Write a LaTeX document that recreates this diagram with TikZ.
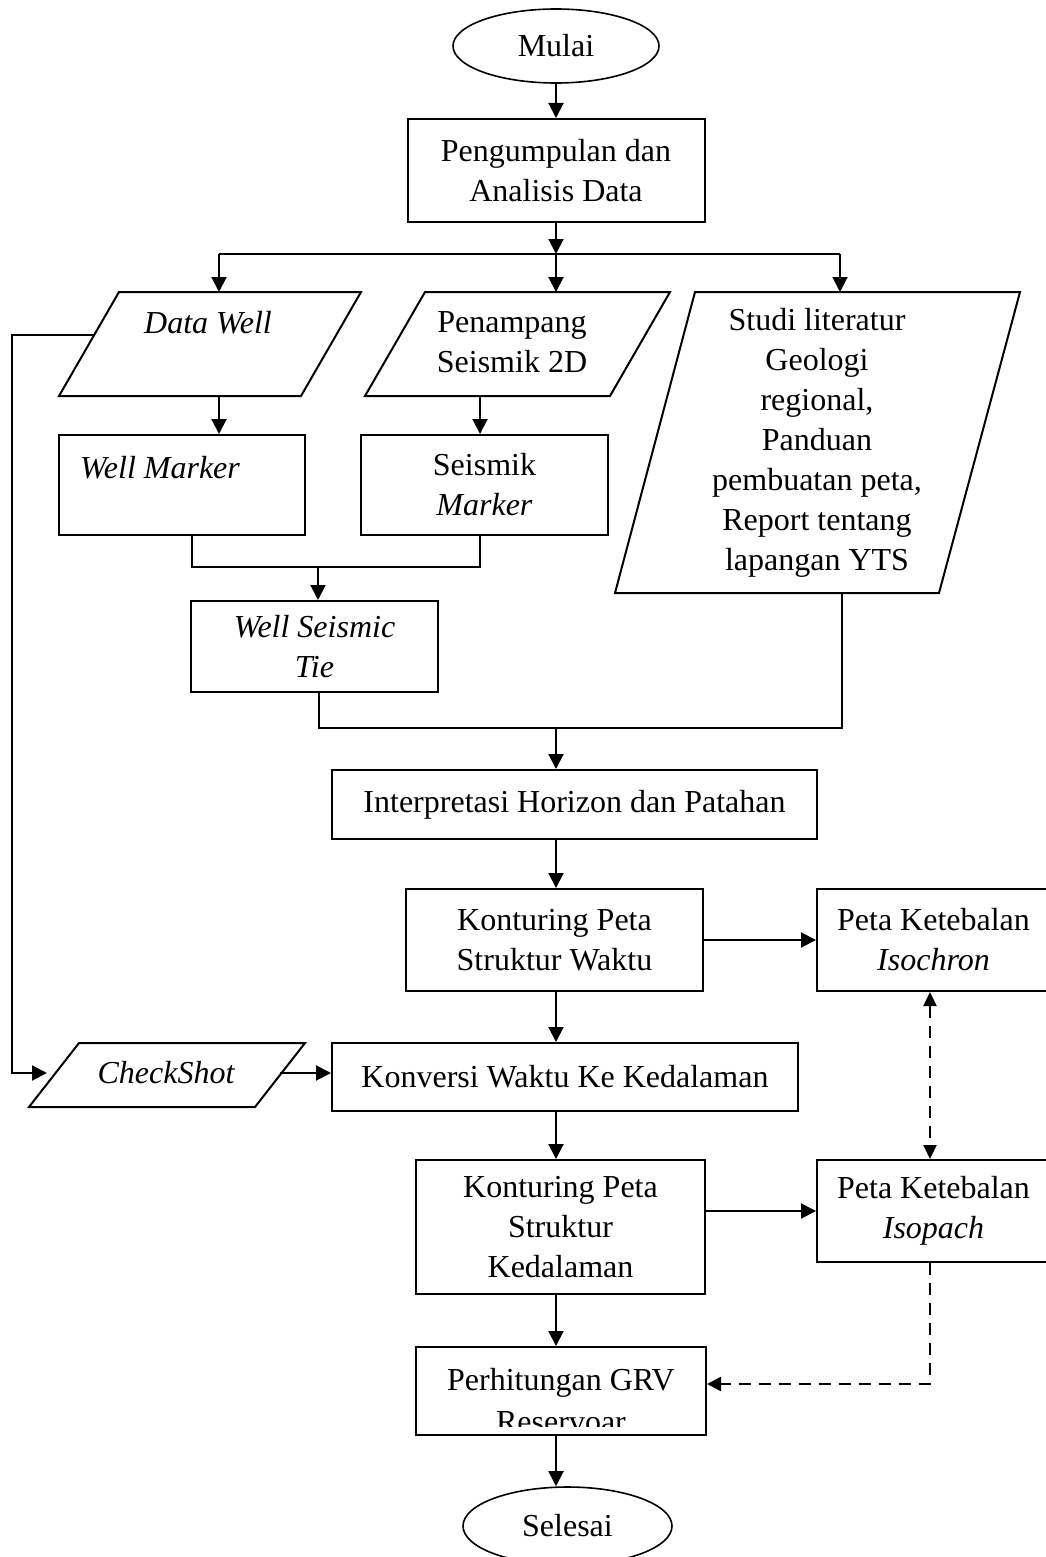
\documentclass[tikz,border=0pt]{standalone}
\usepackage{fontspec}
\setmainfont{Liberation Serif}
\usetikzlibrary{arrows.meta,shapes.geometric}
\newcommand\diafont{\fontsize{32}{40}\selectfont}
\begin{document}
\begin{tikzpicture}[x=1pt,y=-1pt,
  every node/.style={font=\diafont},
  box/.style={draw,line width=2pt,rectangle,inner sep=0pt,align=center},
  oval/.style={draw,line width=1.6pt,ellipse,inner sep=0pt},
  para/.style={line width=2pt,line join=miter},
  conn/.style={line width=2pt},
  arr/.style={line width=2pt,-{Triangle[length=15pt,width=15pt]}},
  darr/.style={line width=2.4pt,dash pattern=on 12pt off 8pt,-{Triangle[length=14pt,width=14pt]}},
  ddarr/.style={line width=2pt,dash pattern=on 12pt off 8pt,{Triangle[length=14pt,width=13pt]}-{Triangle[length=14pt,width=13pt]}},
  txt/.style={inner sep=0pt,align=center}]
\useasboundingbox (0,0) rectangle (1045,1557);

% start
\node[oval,minimum width=206pt,minimum height=74pt] (mulai) at (556,46) {Mulai};
\node[box,minimum width=297pt,minimum height=103pt] (peng) at (556,170.5) {Pengumpulan dan\\Analisis Data};
\draw[arr] (mulai.south) -- (peng.north);

% branch
\coordinate (br) at (556,254);
\coordinate (brL) at (219,254);
\coordinate (brR) at (840,254);
\draw[arr] (peng.south) -- (br);
\draw[conn] (brL) -- (brR);

% Data Well
\draw[para] (119,292) -- (361,292) -- (301,396) -- (59,396) -- cycle;
\node[txt,anchor=base] (dwtext) at (208,333) {\itshape Data Well};
\coordinate (dw-in) at (219,292);
\coordinate (dw-out) at (219,396);
\coordinate (dw-left) at (94,335);

% Penampang
\draw[para] (425,292) -- (670,292) -- (610,396) -- (365,396) -- cycle;
\node[txt] (pntext) at (512,342) {Penampang\\Seismik 2D};
\coordinate (pn-in) at (556,292);
\coordinate (pn-out) at (480,396);

% Studi literatur
\draw[para] (695,292) -- (1020,292) -- (939,593) -- (615,593) -- cycle;
\node[txt] (sttext) at (817,442.5) {Studi literatur\\Geologi\\regional,\\Panduan\\pembuatan peta,\\Report tentang\\lapangan YTS};
\coordinate (st-in) at (840,292);
\coordinate (st-out) at (842,593);

\draw[arr] (brL) -- (dw-in);
\draw[arr] (br) -- (pn-in);
\draw[arr] (brR) -- (st-in);

% markers
\node[box,minimum width=246pt,minimum height=100pt] (wm) at (182,485) {};
\node[txt,anchor=base west] (wmtext) at (80,478) {\itshape Well Marker};
\node[box,minimum width=247pt,minimum height=100pt] (sm) at (484.5,485) {Seismik\\\textit{Marker}};
\draw[arr] (dw-out) -- (wm.north -| dw-out);
\draw[arr] (pn-out) -- (sm.north -| pn-out);

\coordinate (j1) at (192,567);
\coordinate (j2) at (480,567);
\coordinate (j3) at (318,567);
\draw[conn] (wm.south -| j1) -- (j1) -- (j2) -- (sm.south -| j2);

\node[box,minimum width=247pt,minimum height=91pt] (wst) at (314.5,646.5) {\textit{Well Seismic}\\\textit{Tie}};
\draw[arr] (j3) -- (wst.north -| j3);

\coordinate (k1) at (319,728);
\coordinate (k2) at (842,728);
\coordinate (k3) at (556,728);
\draw[conn] (wst.south -| k1) -- (k1) -- (k2) -- (st-out);

% main column
\node[box,minimum width=485pt,minimum height=69pt] (interp) at (574.5,804.5) {Interpretasi Horizon dan Patahan};
\draw[arr] (k3) -- (k3 |- interp.north);

\node[box,minimum width=297pt,minimum height=102pt] (kwaktu) at (554.5,940) {Konturing Peta\\Struktur Waktu};
\draw[arr] (k3 |- interp.south) -- (k3 |- kwaktu.north);

\node[box,minimum width=233pt,minimum height=102pt] (isochron) at (933.5,940) {Peta Ketebalan\\\textit{Isochron}};
\draw[arr] (kwaktu.east) -- (isochron.west);

\node[box,minimum width=466pt,minimum height=68pt] (konversi) at (565,1077) {Konversi Waktu Ke Kedalaman};
\draw[arr] (k3 |- kwaktu.south) -- (k3 |- konversi.north);

% CheckShot
\draw[para] (79,1043) -- (305,1043) -- (255,1107) -- (29,1107) -- cycle;
\node[txt] (cstext) at (166,1072.5) {\itshape CheckShot};
\coordinate (cs-left) at (47,1073);
\coordinate (cs-right) at (280,1073);
\coordinate (lx) at (12,335);
\draw[arr] (dw-left) -- (lx) |- (cs-left);
\draw[arr] (cs-right) -- (konversi.west |- cs-right);

\node[box,minimum width=289pt,minimum height=134pt] (kked) at (560.5,1227) {Konturing Peta\\Struktur\\Kedalaman};
\draw[arr] (k3 |- konversi.south) -- (k3 |- kked.north);

\node[box,minimum width=233pt,minimum height=102pt] (isopach) at (933.5,1211) {Peta Ketebalan\\\textit{Isopach}};
\draw[arr] (kked.east |- isopach.west) -- (isopach.west);

\coordinate (dd) at (930,1000);
\draw[ddarr] (isochron.south -| dd) -- (isopach.north -| dd);

% Perhitungan
\node[box,minimum width=290pt,minimum height=88pt] (perhit) at (561,1391) {};
\node[txt,anchor=base] (ph1) at (561,1390) {Perhitungan GRV};
\begin{scope}
  \clip (416,1347) rectangle (706,1426);
  \node[txt,anchor=base] (ph2) at (561,1432) {Reservoar};
\end{scope}
\draw[arr] (k3 |- kked.south) -- (k3 |- perhit.north);

\coordinate (dcorner) at (930,1384);
\draw[darr] (isopach.south -| dcorner) -- (dcorner) -- (perhit.east |- dcorner);

% end
\node[oval,minimum width=209pt,minimum height=78pt] (selesai) at (567.5,1526) {Selesai};
\draw[arr] (k3 |- perhit.south) -- (k3 |- selesai.north);
\end{tikzpicture}
\end{document}
